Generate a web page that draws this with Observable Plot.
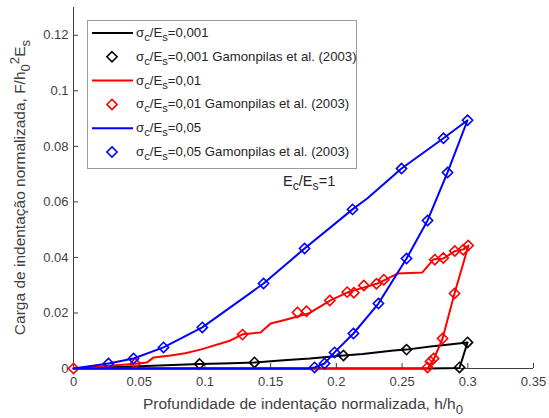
<!DOCTYPE html>
<html><head><meta charset="utf-8">
<script src="https://cdn.jsdelivr.net/npm/d3@7"></script>
<script src="https://cdn.jsdelivr.net/npm/@observablehq/plot@0.6"></script>
<style>body{margin:0;background:#fff;} svg{display:block;}</style>
</head><body><div id="chart"></div>
<script>
// ---- tick values and labels ----
const xTicks = [0, 0.05, 0.1, 0.15, 0.2, 0.25, 0.3, 0.35];
const xTickLabels = ["0", "0.05", "0.1", "0.15", "0.2", "0.25", "0.3", "0.35"];
const yTicks = [0, 0.02, 0.04, 0.06, 0.08, 0.1, 0.12];
const yTickLabels = ["0", "0.02", "0.04", "0.06", "0.08", "0.1", "0.12"];

// ---- simulation curves (h/h0, F/h0^2Es) ----
const blackLineH = [0, 0.05, 0.0959, 0.12, 0.1377, 0.16, 0.18, 0.2054, 0.22, 0.2435, 0.2534, 0.27, 0.2998, 0.2937, 0.27, 0];
const blackLineF = [0, 0.0008, 0.0016, 0.0019, 0.0022, 0.003, 0.0036, 0.0047, 0.0052, 0.0065, 0.0068, 0.0078, 0.0094, 0.0002, 0, 0];

const redLineH = [0, 0.045, 0.056, 0.061, 0.074, 0.085, 0.0966, 0.1195, 0.1286, 0.1423, 0.15, 0.16, 0.1704, 0.1788, 0.1955, 0.2085, 0.2313, 0.2465, 0.2655, 0.2739, 0.2815, 0.2899, 0.2967, 0.3005, 0.2899, 0.2808, 0.274, 0.2694, 0];
const redLineF = [0, 0.0016, 0.0022, 0.004, 0.0047, 0.0055, 0.0068, 0.0101, 0.0123, 0.013, 0.0162, 0.0174, 0.0187, 0.0198, 0.0245, 0.0274, 0.0306, 0.0342, 0.0346, 0.0393, 0.0396, 0.0422, 0.0429, 0.0443, 0.027, 0.0108, 0.0032, 0, 0];

const blueLineH = [0, 0.0266, 0.0457, 0.0685, 0.098, 0.1446, 0.1758, 0.2123, 0.2237, 0.2496, 0.2815, 0.2998, 0.2846, 0.2694, 0.2534, 0.232, 0.213, 0.1986, 0.191, 0.1834, 0.18, 0];
const blueLineF = [0, 0.0018, 0.0036, 0.0076, 0.0148, 0.0306, 0.0432, 0.0573, 0.0613, 0.072, 0.0829, 0.0894, 0.0706, 0.0533, 0.0396, 0.0234, 0.0126, 0.0058, 0.0018, 0.0004, 0, 0];

// ---- Gamonpilas et al. (2003) points ----
const blackPtsH = [0.0959, 0.1377, 0.2054, 0.2534, 0.2998, 0.2937];
const blackPtsF = [0.0016, 0.0022, 0.0047, 0.0068, 0.0094, 0.0004];

const redPtsH = [0, 0.047, 0.1286, 0.1704, 0.1773, 0.195, 0.2082, 0.2133, 0.2209, 0.2305, 0.2361, 0.2749, 0.2813, 0.2901, 0.2965, 0.3003, 0.2899, 0.2808, 0.274, 0.2716, 0.2694];
const redPtsF = [0, 0.0018, 0.0122, 0.0202, 0.0206, 0.0245, 0.0275, 0.0273, 0.0299, 0.0305, 0.032, 0.0392, 0.0398, 0.0423, 0.0428, 0.0443, 0.027, 0.0108, 0.0036, 0.0025, 0.0004];

const bluePtsH = [0.0266, 0.0457, 0.0685, 0.098, 0.1446, 0.1758, 0.2123, 0.2496, 0.2815, 0.2998, 0.2846, 0.2694, 0.2534, 0.232, 0.213, 0.1986, 0.191, 0.1834];
const bluePtsF = [0.0018, 0.0036, 0.0076, 0.0148, 0.0306, 0.0432, 0.0573, 0.072, 0.0829, 0.0894, 0.0706, 0.0533, 0.0396, 0.0234, 0.0126, 0.0058, 0.0018, 0.0004];

const seriesNames = ["=0,001", "=0,001 Gamonpilas et al. (2003)", "=0,01", "=0,01 Gamonpilas et al. (2003)", "=0,05", "=0,05 Gamonpilas et al. (2003)"];
const colors = ["#000000", "#ff0000", "#0000ff"];

const zip = (H, F) => H.map((h, i) => ({h, f: F[i]}));

const FONT = "'Liberation Sans', Arial, Helvetica, sans-serif";
const TXT = "#404040";
const W = 549, H = 418, ML = 73, MR = 16, MT = 7, MB = 50;
const MR_ = 4.6;

const lineOpts = c => ({x: "h", y: "f", stroke: c, strokeWidth: 2, strokeLinejoin: "round"});
const dotOpts = c => ({x: "h", y: "f", symbol: "diamond2", r: MR_, stroke: c, strokeWidth: 1.6, fill: "none"});

const chart = Plot.plot({
  width: W, height: H,
  marginLeft: ML, marginRight: MR, marginTop: MT, marginBottom: MB,
  style: {fontFamily: FONT, fontSize: "13px", color: TXT, background: "#fff", overflow: "visible"},
  x: {domain: [0, 0.35]},
  y: {domain: [0, 0.13]},
  marks: [
    Plot.axisX({ticks: xTicks, tickSize: 0, tickPadding: 8, label: null, tickFormat: d => xTickLabels[xTicks.indexOf(d)], fill: TXT}),
    Plot.axisY({ticks: yTicks, tickSize: 0, tickPadding: 5, label: null, tickFormat: d => yTickLabels[yTicks.indexOf(d)], fill: TXT}),
    Plot.tickX(xTicks, {x: d => d, insetTop: (H - MT - MB) - 5, stroke: TXT, strokeWidth: 1}),
    Plot.tickY(yTicks, {y: d => d, insetRight: (W - ML - MR) - 5, stroke: TXT, strokeWidth: 1}),
    Plot.ruleX([0], {stroke: TXT, strokeWidth: 1}),
    Plot.ruleY([0], {stroke: TXT, strokeWidth: 1}),
    Plot.line(zip(blackLineH, blackLineF), lineOpts(colors[0])),
    Plot.dot(zip(blackPtsH, blackPtsF), dotOpts(colors[0])),
    Plot.line(zip(redLineH, redLineF), lineOpts(colors[1])),
    Plot.dot(zip(redPtsH, redPtsF), dotOpts(colors[1])),
    Plot.line(zip(blueLineH, blueLineF), lineOpts(colors[2])),
    Plot.dot(zip(bluePtsH, bluePtsF), dotOpts(colors[2]))
  ]
});
document.getElementById("chart").appendChild(chart);

const svg = d3.select(chart);

// rich text helper: parts = [[text, shift(px, + = down), small?]]
function rich(sel, parts, size) {
  let cur = 0;
  for (const [s, shift, small] of parts) {
    sel.append("tspan").attr("dy", shift - cur).attr("font-size", small ? size * 0.85 : size).text(s);
    cur = shift;
  }
}

// axis labels
const xl = svg.append("text").attr("x", ML + (W - ML - MR) / 2).attr("y", 409)
  .attr("text-anchor", "middle").attr("font-family", FONT).attr("fill", TXT);
rich(xl, [["Profundidade de indentação normalizada, h/h", 0], ["0", 5, true]], 15.5);

const yl = svg.append("text").attr("transform", "rotate(-90)").attr("x", -(MT + (H - MT - MB) / 2)).attr("y", 25)
  .attr("text-anchor", "middle").attr("font-family", FONT).attr("fill", TXT);
rich(yl, [["Carga de indentação normalizada, F/h", 0], ["0", 5, true], ["2", -6, true], ["E", 0], ["s", 5, true]], 15.5);

// annotation
const an = svg.append("text").attr("x", 283).attr("y", 186).attr("text-anchor", "start").attr("font-family", FONT).attr("fill", "#262626");
rich(an, [["E", 0], ["c", 4, true], ["/E", 0], ["s", 4, true], ["=1", 0]], 14.5);

// legend
const lg = svg.append("g");
lg.append("rect").attr("x", 87.5).attr("y", 20.5).attr("width", 269).attr("height", 148)
  .attr("fill", "#fff").attr("stroke", "#9a9a9a").attr("stroke-width", 1);
const rowY = i => 33 + i * 23.8;
seriesNames.forEach((name, i) => {
  const c = colors[Math.floor(i / 2)];
  const y = rowY(i);
  if (i % 2 === 0) {
    lg.append("line").attr("x1", 92).attr("x2", 133).attr("y1", y).attr("y2", y).attr("stroke", c).attr("stroke-width", 2);
  } else {
    lg.append("path").attr("d", d3.symbol(d3.symbolDiamond2, MR_ * MR_ * Math.PI)()).attr("transform", `translate(112,${y})`)
      .attr("fill", "none").attr("stroke", c).attr("stroke-width", 1.6);
  }
  const t = lg.append("text").attr("x", 136).attr("y", y + 4).attr("text-anchor", "start").attr("font-family", FONT).attr("fill", "#262626");
  rich(t, [["σ", 0], ["c", 4, true], ["/E", 0], ["s", 4, true], [name, 0]], 13.2);
});
</script>
</body></html>
